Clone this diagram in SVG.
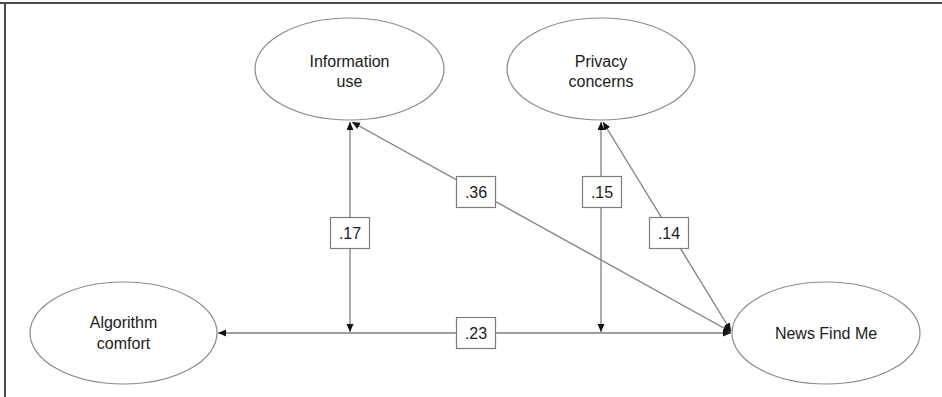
<svg xmlns="http://www.w3.org/2000/svg" width="942" height="397" viewBox="0 0 942 397">
<style>
.node ellipse{fill:#fff;stroke:#8a8a8a;stroke-width:1.2}
.lbl{font-family:"Liberation Sans",Arial,sans-serif;font-size:16px;fill:#1a1a1a;text-anchor:middle}
.conn line{stroke:#7d7d7d;stroke-width:1.3;fill:none;marker-start:url(#ah);marker-end:url(#ah)}
.coef rect{fill:#fff;stroke:#7d7d7d;stroke-width:1.2}
.frame{stroke:#4a4a4a;stroke-width:2;fill:none}
</style>
<defs>
<marker id="ah" markerUnits="userSpaceOnUse" markerWidth="9" markerHeight="8" refX="8" refY="3.5" orient="auto-start-reverse">
<path d="M0,0 L8,3.5 L0,7 z" fill="#111"/>
</marker>
</defs>
<rect width="942" height="397" fill="#fff"/>
<path class="frame" d="M0,3 H942 M5,3 V397"/>
<g id="connectors" class="conn">
<line x1="218" y1="333" x2="731" y2="333"/>
<line x1="350" y1="122" x2="350" y2="332"/>
<line x1="601" y1="122" x2="601" y2="332"/>
<line x1="352" y1="122" x2="731" y2="332"/>
<line x1="603" y1="122" x2="731" y2="331"/>
</g>
<g id="node-information-use" class="node">
<ellipse cx="349.5" cy="69" rx="94.5" ry="51"/>
<text class="lbl" x="349.5" y="67">Information</text>
<text class="lbl" x="349.5" y="87">use</text>
</g>
<g id="node-privacy-concerns" class="node">
<ellipse cx="601" cy="69" rx="94" ry="51"/>
<text class="lbl" x="601" y="67">Privacy</text>
<text class="lbl" x="601" y="87">concerns</text>
</g>
<g id="node-algorithm-comfort" class="node">
<ellipse cx="123.5" cy="333" rx="93.5" ry="51"/>
<text class="lbl" x="123.5" y="328">Algorithm</text>
<text class="lbl" x="123.5" y="349">comfort</text>
</g>
<g id="node-news-find-me" class="node">
<ellipse cx="826" cy="333" rx="94" ry="51"/>
<text class="lbl" x="826" y="339">News Find Me</text>
</g>
<g id="coefficients" class="coef">
<rect x="330.5" y="217.5" width="39" height="31"/>
<text class="lbl" x="350" y="239">.17</text>
<rect x="456.5" y="176.5" width="39" height="31"/>
<text class="lbl" x="476" y="198">.36</text>
<rect x="582.5" y="176.5" width="39" height="31"/>
<text class="lbl" x="602" y="198">.15</text>
<rect x="649.5" y="217.5" width="39" height="31"/>
<text class="lbl" x="669" y="239">.14</text>
<rect x="456.5" y="317.5" width="39" height="31"/>
<text class="lbl" x="476" y="339">.23</text>
</g>
</svg>
